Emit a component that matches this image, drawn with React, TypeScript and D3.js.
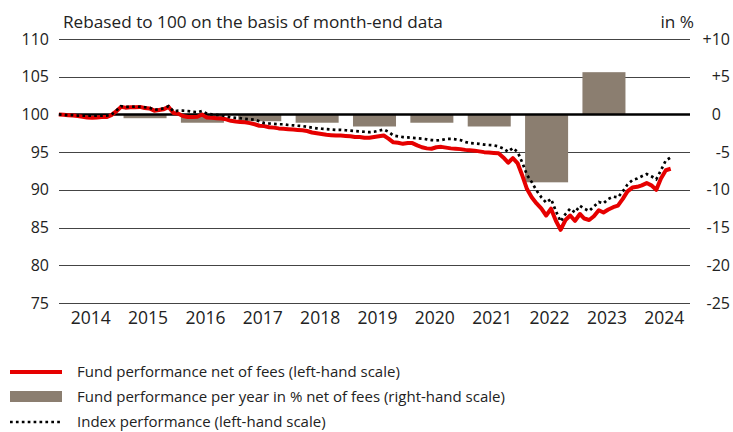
import React, { useEffect, useRef } from "react";
import * as d3 from "d3";

// month-end values, Dec 2013 .. Aug 2024, rebased to 100
const fundValues = [
  100,
  99.95, 99.9, 99.85, 99.8, 99.7, 99.6, 99.55, 99.6, 99.65, 99.65, 99.9, 100.4, // 2014
  101.0, 100.9, 100.95, 100.95, 101.0, 100.85, 100.8, 100.5, 100.6, 100.7, 101.0, 100.2, // 2015
  100.1, 99.8, 99.65, 99.65, 99.7, 100.0, 99.6, 99.55, 99.5, 99.45, 99.35, 99.15, // 2016
  99.05, 99.0, 98.95, 98.85, 98.7, 98.5, 98.45, 98.3, 98.25, 98.15, 98.1, 98.05, // 2017
  98.0, 97.95, 97.9, 97.8, 97.6, 97.5, 97.4, 97.3, 97.25, 97.2, 97.2, 97.15, // 2018
  97.1, 97.0, 97.0, 96.9, 96.9, 97.0, 97.1, 97.2, 96.8, 96.3, 96.25, 96.1, // 2019
  96.2, 96.2, 95.9, 95.65, 95.5, 95.45, 95.65, 95.7, 95.6, 95.5, 95.45, 95.4, // 2020
  95.3, 95.25, 95.2, 95.1, 95.0, 94.95, 94.9, 94.85, 94.3, 93.6, 94.2, 93.5, // 2021
  91.8, 90.1, 89.0, 88.2, 87.5, 86.6, 87.5, 85.9, 84.7, 86.0, 86.6, 85.9, // 2022
  86.8, 86.2, 86.0, 86.5, 87.3, 87.0, 87.4, 87.7, 87.9, 88.8, 89.8, 90.3, // 2023
  90.4, 90.6, 90.9, 90.6, 90.0, 91.5, 92.6, 92.8, // 2024
];

const indexValues = [
  100,
  99.95, 99.9, 99.9, 99.85, 99.85, 99.85, 99.85, 99.85, 99.85, 99.85, 99.95, 100.5,
  101.1, 101.0, 101.0, 101.05, 101.0, 100.95, 100.9, 100.6, 100.7, 100.8, 101.1, 100.4,
  100.5, 100.5, 100.45, 100.35, 100.3, 100.45, 100.1, 100.0, 99.95, 99.9, 99.75, 99.6,
  99.55, 99.5, 99.4, 99.35, 99.3, 99.1, 98.85, 98.8, 98.75, 98.7, 98.7, 98.6,
  98.55, 98.5, 98.45, 98.35, 98.25, 98.15, 98.1, 98.05, 98.0, 97.95, 97.95, 97.9,
  97.85, 97.8, 97.75, 97.7, 97.65, 97.7, 97.85, 98.0, 97.7, 97.2, 97.1, 97.0,
  96.95, 96.9, 96.85, 96.8, 96.7, 96.6, 96.55, 96.6, 96.75, 96.75, 96.7, 96.6,
  96.35, 96.2, 96.15, 96.1, 96.0, 95.95, 95.9, 95.75, 95.5, 95.05, 95.55, 95.0,
  93.5, 92.0, 91.0, 89.9, 89.0, 88.3, 88.8, 87.2, 85.8, 86.8, 87.5, 87.0,
  87.9, 87.5, 87.2, 87.8, 88.4, 88.2, 88.8, 89.1, 89.0, 89.8, 90.7, 91.3,
  91.5, 91.8, 92.1, 91.8, 91.4, 92.6, 93.9, 94.3,
];

const years = ["2014", "2015", "2016", "2017", "2018", "2019", "2020", "2021", "2022", "2023", "2024"];
const barYears = ["2015", "2016", "2017", "2018", "2019", "2020", "2021", "2022", "2023"];
const barValues = [-0.5, -1.1, -0.9, -1.1, -1.6, -1.1, -1.6, -9.0, 5.6];

const leftTicks = [75, 80, 85, 90, 95, 100, 105, 110];
const rightTicks = [-25, -20, -15, -10, -5, 0, 5, 10];

const legendItems = [
  "Fund performance net of fees (left-hand scale)",
  "Fund performance per year in % net of fees (right-hand scale)",
  "Index performance (left-hand scale)",
];

const RED = "#e60000";
const BAR = "#8b7e70";
const FONT = "'Open Sans', sans-serif";

export default function App() {
  const ref = useRef(null);

  useEffect(() => {
    const svg = d3.select(ref.current);
    svg.selectAll("*").remove();

    const x0 = 59, x1 = 690, yTop = 39, yBot = 303;

    // month-end dates, first point is the rebasing date
    const dates = fundValues.map((_, i) => d3.timeMonth.offset(new Date(2014, 0, 1), i).getTime() - 86400000);

    const x = d3.scaleTime().domain([new Date(2014, 0, 1), new Date(2025, 0, 1)]).range([x0, x1]);
    const xBand = d3.scaleBand().domain(years).range([x0, x1]).paddingInner(0.25).paddingOuter(0.125);
    const yL = d3.scaleLinear().domain([75, 110]).range([yBot, yTop]);
    const yR = d3.scaleLinear().domain([-25, 10]).range([yBot, yTop]);

    // gridlines
    svg.append("g").selectAll("line").data(leftTicks.filter(d => d !== 100)).join("line")
      .attr("x1", x0).attr("x2", x1)
      .attr("y1", d => Math.round(yL(d)) + 0.5).attr("y2", d => Math.round(yL(d)) + 0.5)
      .attr("stroke", "#444").attr("stroke-width", 1);

    // bars
    svg.append("g").selectAll("rect").data(barValues).join("rect")
      .attr("x", (d, i) => xBand(barYears[i]))
      .attr("width", xBand.bandwidth())
      .attr("y", d => yR(Math.max(0, d)))
      .attr("height", d => Math.abs(yR(d) - yR(0)))
      .attr("fill", BAR);

    // base line 100 / 0
    svg.append("line")
      .attr("x1", x0).attr("x2", x1).attr("y1", yL(100)).attr("y2", yL(100))
      .attr("stroke", "#000").attr("stroke-width", 2.5);

    const line = d3.line().x((d, i) => x(dates[i])).y(d => yL(d));

    svg.append("path").datum(fundValues)
      .attr("d", line).attr("fill", "none")
      .attr("stroke", RED).attr("stroke-width", 4).attr("stroke-linejoin", "round");

    svg.append("path").datum(indexValues)
      .attr("d", line).attr("fill", "none")
      .attr("stroke", "#000").attr("stroke-width", 2.7).attr("stroke-dasharray", "2.7 3.2");

    // left axis
    const left = svg.append("g").attr("transform", `translate(49,0)`)
      .call(d3.axisLeft(yL).tickValues(leftTicks).tickSize(0).tickPadding(0));
    left.select(".domain").remove();

    // right axis
    const right = svg.append("g").attr("transform", `translate(730,0)`)
      .call(d3.axisRight(yR).tickValues(rightTicks).tickSize(0).tickPadding(0)
        .tickFormat(d => (d > 0 ? `+${d}` : `${d}`)));
    right.select(".domain").remove();
    right.selectAll("text").attr("text-anchor", "end").attr("dx", d => (d === 0 ? -9 : 0));

    svg.selectAll(".tick text").attr("font-family", FONT).attr("font-size", 16).attr("fill", "#222");

    // bottom axis
    const bottom = svg.append("g").attr("transform", `translate(3,${yBot})`)
      .call(d3.axisBottom(xBand).tickSize(0).tickPadding(9));
    bottom.select(".domain").remove();
    bottom.selectAll("text").attr("font-family", FONT).attr("font-size", 17.5).attr("fill", "#222");

    svg.append("text").attr("x", 63).attr("y", 28)
      .attr("font-family", FONT).attr("font-size", 17.2).attr("fill", "#222")
      .text("Rebased to 100 on the basis of month-end data");
    svg.append("text").attr("x", 694).attr("y", 28).attr("text-anchor", "end")
      .attr("font-family", FONT).attr("font-size", 17.2).attr("fill", "#222")
      .text("in %");

    // legend
    const legend = svg.append("g").attr("transform", "translate(10,372)");
    const rowH = 25;
    legend.append("line").attr("x1", 0).attr("x2", 52).attr("y1", 0).attr("y2", 0)
      .attr("stroke", RED).attr("stroke-width", 4);
    legend.append("rect").attr("x", 0).attr("y", rowH - 6).attr("width", 52).attr("height", 11).attr("fill", BAR);
    legend.append("line").attr("x1", 0).attr("x2", 52).attr("y1", rowH * 2).attr("y2", rowH * 2)
      .attr("stroke", "#000").attr("stroke-width", 2.7).attr("stroke-dasharray", "2.7 3.2");
    legend.selectAll("text").data(legendItems).join("text")
      .attr("x", 67).attr("y", (d, i) => i * rowH).attr("dy", "0.35em")
      .attr("font-family", FONT).attr("font-size", 15).attr("fill", "#222")
      .text(d => d);
  }, []);

  return (
    <svg ref={ref} width={733} height={432}
      style={{ position: "absolute", left: 0, top: 0, background: "#fff" }} />
  );
}
